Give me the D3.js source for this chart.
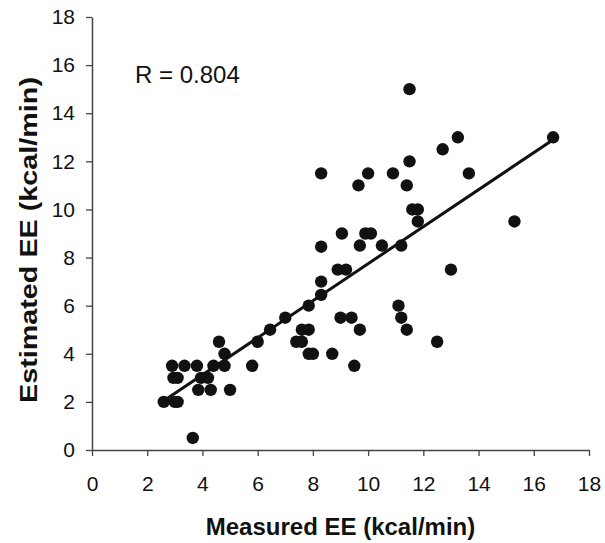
<!DOCTYPE html>
<html>
<head>
<meta charset="utf-8">
<script src="https://cdn.jsdelivr.net/npm/d3@7"></script>
<style>
  html, body { margin: 0; padding: 0; background: #fff; }
  svg { display: block; }
  text { font-family: "Liberation Sans", Arial, sans-serif; fill: #111; }
</style>
</head>
<body>
<svg id="chart" width="605" height="543"></svg>
<script>
const measuredEE = [2.6, 3.0, 3.1, 2.95, 3.1, 2.9, 3.35, 3.8, 3.65, 3.85, 4.3, 5.0, 3.95, 4.2, 4.4, 4.8, 4.8, 4.6, 5.8, 6.0,
  6.45, 7.0, 7.4, 7.6, 7.6, 7.85, 7.85, 8.0, 8.7, 7.85, 8.3, 8.3, 8.3, 8.3, 8.9, 9.2, 9.05, 9.0, 9.4, 9.7,
  9.5, 9.7, 9.9, 10.1, 9.65, 10.0, 10.5, 10.9, 11.2, 11.1, 11.2, 11.4, 11.4, 11.5, 11.5, 11.6, 11.8, 11.8, 12.5, 12.7,
  13.0, 13.25, 13.65, 15.3, 16.7];
const estimatedEE = [2, 2, 2, 3, 3, 3.5, 3.5, 3.5, 0.5, 2.5, 2.5, 2.5, 3, 3, 3.5, 3.5, 4, 4.5, 3.5, 4.5,
  5, 5.5, 4.5, 4.5, 5, 5, 4, 4, 4, 6, 6.45, 7, 8.45, 11.5, 7.5, 7.5, 9, 5.5, 5.5, 5,
  3.5, 8.5, 9, 9, 11, 11.5, 8.5, 11.5, 8.5, 6, 5.5, 5, 11, 12, 15, 10, 10, 9.5, 4.5, 12.5,
  7.5, 13, 11.5, 9.5, 13];
const trendX = [2.6, 16.7];
const trendY = [2.05, 12.9];
const xTicks = [0, 2, 4, 6, 8, 10, 12, 14, 16, 18];
const yTicks = [0, 2, 4, 6, 8, 10, 12, 14, 16, 18];
const rLabel = "R = 0.804";
const xTitle = "Measured EE (kcal/min)";
const yTitle = "Estimated EE (kcal/min)";

(function () {
  const svg = d3.select("#chart");
  const mLeft = 92, mRight = 589, mTop = 17, mBottom = 450;
  const x = d3.scaleLinear().domain([0, 18]).range([mLeft, mRight]);
  const y = d3.scaleLinear().domain([0, 18]).range([mBottom, mTop]);

  const axisColor = "#444";

  const xAxis = svg.append("g").attr("transform", `translate(0,${mBottom})`)
    .call(d3.axisBottom(x).tickValues(xTicks).tickSize(6).tickPadding(20).tickSizeOuter(0));
  const yAxis = svg.append("g").attr("transform", `translate(${mLeft},0)`)
    .call(d3.axisLeft(y).tickValues(yTicks).tickSize(6).tickPadding(11).tickSizeOuter(0));

  [xAxis, yAxis].forEach(g => {
    g.select(".domain").attr("stroke", axisColor).attr("stroke-width", 1.5);
    g.selectAll(".tick line").attr("stroke", axisColor).attr("stroke-width", 1.3);
    g.selectAll(".tick text").attr("font-size", 21).attr("fill", "#111")
      .attr("font-family", "'Liberation Sans', Arial, sans-serif");
  });
  xAxis.selectAll(".tick text").attr("dy", "0.71em").attr("y", 26);

  // data points
  svg.append("g").selectAll("circle")
    .data(measuredEE.map((m, i) => [m, estimatedEE[i]]))
    .join("circle")
    .attr("cx", d => x(d[0]))
    .attr("cy", d => y(d[1]))
    .attr("r", 6.2)
    .attr("fill", "#111");

  // trend line
  svg.append("line")
    .attr("x1", x(trendX[0])).attr("y1", y(trendY[0]))
    .attr("x2", x(trendX[1])).attr("y2", y(trendY[1]))
    .attr("stroke", "#111").attr("stroke-width", 3);

  svg.append("text").attr("x", 135).attr("y", 83)
    .attr("font-size", 24).text(rLabel);

  svg.append("text").attr("x", (mLeft + mRight) / 2).attr("y", 535)
    .attr("text-anchor", "middle").attr("font-size", 24).attr("font-weight", "bold")
    .text(xTitle);

  svg.append("text").attr("transform", `translate(37,240) rotate(-90)`)
    .attr("text-anchor", "middle").attr("font-size", 24).attr("font-weight", "bold")
    .attr("textLength", 326).attr("lengthAdjust", "spacingAndGlyphs")
    .text(yTitle);
})();
</script>
</body>
</html>
